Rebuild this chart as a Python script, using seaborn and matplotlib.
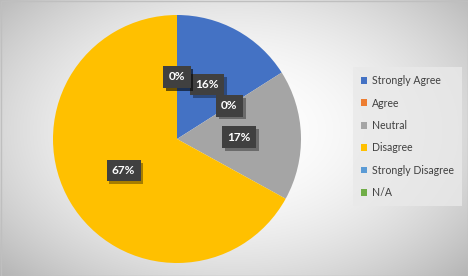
import numpy as np
import matplotlib
matplotlib.use("Agg")
import matplotlib.pyplot as plt
import seaborn as sns
from matplotlib.patches import Patch, Rectangle
from matplotlib import patheffects

sns.set_theme(style="white")
plt.rcParams['font.family'] = ['Lato', 'DejaVu Sans']

categories = ["Strongly Agree", "Agree", "Neutral", "Disagree", "Strongly Disagree", "N/A"]
values = [16, 0, 17, 67, 0, 0]
labels = ["16%", "0%", "17%", "67%", "0%", "0%"]
colors = ["#4472C4", "#ED7D31", "#A5A5A5", "#FFC000", "#5B9BD5", "#70AD47"]

W, H = 468, 276
fig = plt.figure(figsize=(W / 100, H / 100), dpi=100)

# background radial gradient
bg = fig.add_axes([0, 0, 1, 1])
yy, xx = np.mgrid[0:H, 0:W]
d = np.sqrt(((xx - 234) / 260.0) ** 2 + ((yy - 130) / 170.0) ** 2)
shade = 1.0 - 0.19 * np.clip(d, 0, 1.3) ** 2
img = np.dstack([shade, shade, shade])
bg.imshow(img, extent=[0, W, H, 0], aspect="auto")
bg.add_patch(Rectangle((0.5, 0.5), W - 1, H - 1, fill=False, edgecolor="#bfbfbf", lw=1))
bg.set_xlim(0, W)
bg.set_ylim(H, 0)
bg.axis("off")

cx, cy, R = 177, 139, 124
ax = fig.add_axes([(cx - R) / W, (H - cy - R) / H, 2 * R / W, 2 * R / H])
wedges, _ = ax.pie(values, colors=colors, startangle=90, counterclock=False,
                   radius=1, wedgeprops=dict(linewidth=0))
ax.set_xlim(-1, 1)
ax.set_ylim(-1, 1)
ax.set_aspect("equal")
ax.axis("off")

# data labels
total = sum(values)
ang = 90.0
for v, lab in zip(values, labels):
    span = 360.0 * v / total
    mid = np.deg2rad(ang - span / 2)
    ang -= span
    x, y = 0.5 * np.cos(mid), 0.5 * np.sin(mid)
    t = ax.text(x, y, lab, ha="center", va="center", fontsize=8.5, fontweight="bold",
                color="white",
                bbox=dict(boxstyle="square,pad=0.45", facecolor="#404040", edgecolor="none"))
    t.get_bbox_patch().set_path_effects([
        patheffects.SimplePatchShadow(offset=(2, -2), shadow_rgbFace="black", alpha=0.35),
        patheffects.Normal()])

handles = [Patch(facecolor=c, edgecolor="none") for c in colors]
leg = fig.legend(handles, categories, loc="center left", bbox_to_anchor=(353 / W, 0.505),
                 frameon=True, fontsize=7.6, handlelength=0.6, handleheight=0.6,
                 handletextpad=0.45, labelspacing=1.08, borderpad=0.75, borderaxespad=0,
                 fancybox=False)
leg.get_frame().set_facecolor("#e9e9e9")
leg.get_frame().set_edgecolor("none")
for t in leg.get_texts():
    t.set_color("#404040")

fig.savefig("out.png", dpi=100)
